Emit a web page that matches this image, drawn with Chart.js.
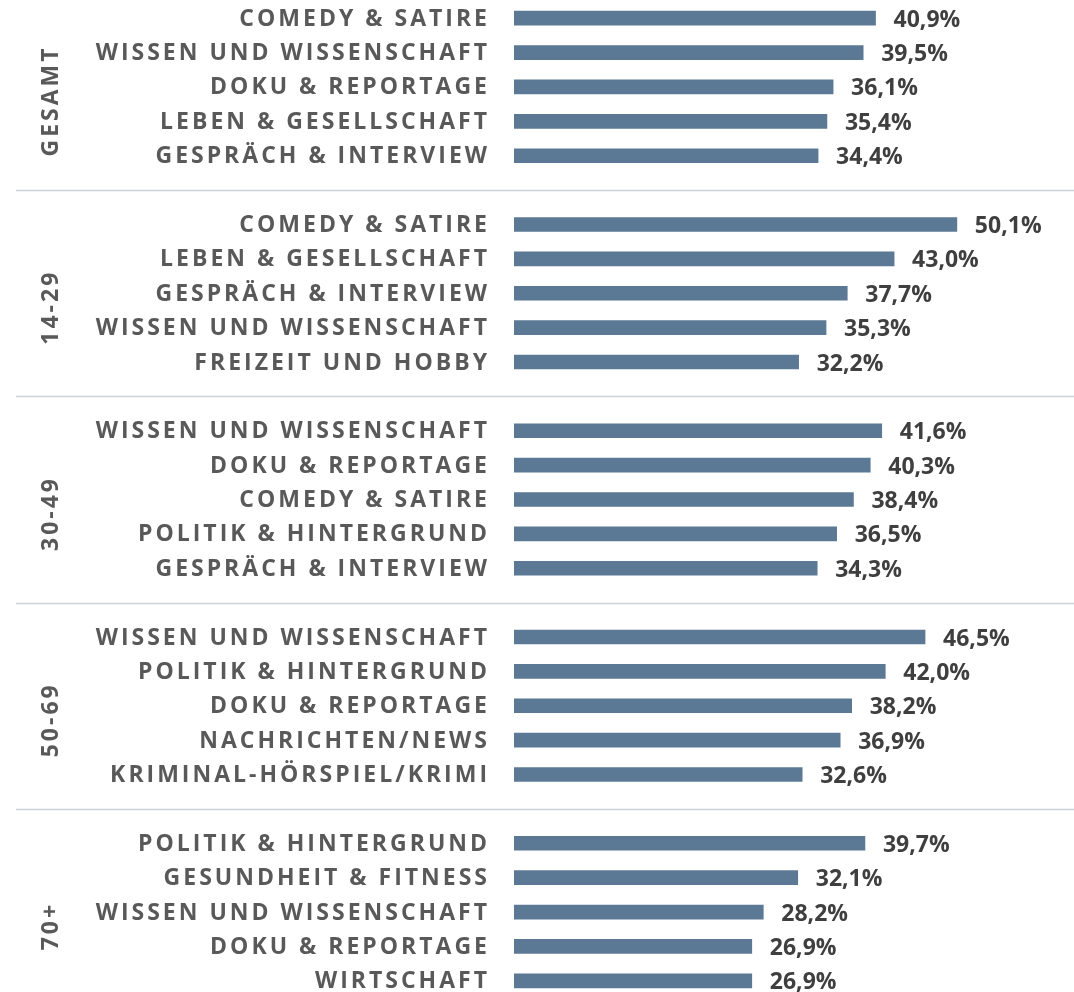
<!DOCTYPE html>
<html lang="de">
<head>
<meta charset="utf-8">
<title>Genres nach Altersgruppen</title>
<script src="https://cdn.jsdelivr.net/npm/chart.js@4.4.1/dist/chart.umd.min.js"></script>
<style>
  html, body { margin: 0; padding: 0; background: #fff; overflow: hidden; }
  #wrap { width: 1074px; height: 998px; }
</style>
</head>
<body>
<div id="wrap"><canvas id="genreChart" width="1074" height="998"></canvas></div>
<script>
// Altersgruppen (links, gedreht)
var groupNames = ['GESAMT', '14-29', '30-49', '50-69', '70+'];

// Genres je Gruppe
var catsGesamt = ['COMEDY & SATIRE', 'WISSEN UND WISSENSCHAFT', 'DOKU & REPORTAGE', 'LEBEN & GESELLSCHAFT', 'GESPRÄCH & INTERVIEW'];
var cats1429 = ['COMEDY & SATIRE', 'LEBEN & GESELLSCHAFT', 'GESPRÄCH & INTERVIEW', 'WISSEN UND WISSENSCHAFT', 'FREIZEIT UND HOBBY'];
var cats3049 = ['WISSEN UND WISSENSCHAFT', 'DOKU & REPORTAGE', 'COMEDY & SATIRE', 'POLITIK & HINTERGRUND', 'GESPRÄCH & INTERVIEW'];
var cats5069 = ['WISSEN UND WISSENSCHAFT', 'POLITIK & HINTERGRUND', 'DOKU & REPORTAGE', 'NACHRICHTEN/NEWS', 'KRIMINAL-HÖRSPIEL/KRIMI'];
var cats70 = ['POLITIK & HINTERGRUND', 'GESUNDHEIT & FITNESS', 'WISSEN UND WISSENSCHAFT', 'DOKU & REPORTAGE', 'WIRTSCHAFT'];

// Werte in %
var valsGesamt = [40.9, 39.5, 36.1, 35.4, 34.4];
var vals1429 = [50.1, 43.0, 37.7, 35.3, 32.2];
var vals3049 = [41.6, 40.3, 38.4, 36.5, 34.3];
var vals5069 = [46.5, 42.0, 38.2, 36.9, 32.6];
var vals70 = [39.7, 32.1, 28.2, 26.9, 26.9];

var groupCats = [catsGesamt, cats1429, cats3049, cats5069, cats70];
var groupVals = [valsGesamt, vals1429, vals3049, vals5069, vals70];

// flat list with an empty slot between groups
var labels = [];
var values = [];
var gapIndex = [];
var groupMid = [];
groupCats.forEach(function (cats, g) {
  if (g > 0) {
    gapIndex.push(labels.length);
    labels.push('');
    values.push(null);
  }
  groupMid.push(labels.length + 2);
  cats.forEach(function (c, i) {
    labels.push(c);
    values.push(groupVals[g][i]);
  });
});

var FONT = 'bold 23px "Open Sans", "DejaVu Sans", sans-serif';

function fmt(v) {
  return v.toFixed(1).replace('.', ',') + '%';
}

var decorPlugin = {
  id: 'decor',
  afterDatasetsDraw: function (chart) {
    var ctx = chart.ctx;
    var yScale = chart.scales.y;
    var meta = chart.getDatasetMeta(0);

    ctx.save();
    // separators
    ctx.strokeStyle = '#c9d3dc';
    ctx.lineWidth = 1.5;
    gapIndex.forEach(function (idx) {
      var y = Math.round(yScale.getPixelForValue(idx)) + 0.5;
      ctx.beginPath();
      ctx.moveTo(16, y);
      ctx.lineTo(chart.width, y);
      ctx.stroke();
    });

    // category labels
    ctx.font = FONT;
    ctx.letterSpacing = '3px';
    ctx.fillStyle = '#595959';
    ctx.textAlign = 'right';
    ctx.textBaseline = 'middle';
    labels.forEach(function (lab, i) {
      if (!lab) return;
      ctx.fillText(lab, 490, yScale.getPixelForValue(i) + 1);
    });

    // group labels (rotated)
    groupNames.forEach(function (name, g) {
      var y = yScale.getPixelForValue(groupMid[g]) + 14;
      ctx.save();
      ctx.translate(51, y);
      ctx.rotate(-Math.PI / 2);
      ctx.textAlign = 'center';
      ctx.fillText(name, 0, 0);
      ctx.restore();
    });

    // value labels
    ctx.letterSpacing = '0px';
    ctx.fillStyle = '#3f3f3f';
    ctx.textAlign = 'left';
    meta.data.forEach(function (bar, i) {
      var v = values[i];
      if (v === null) return;
      ctx.fillText(fmt(v), bar.x + 18, bar.y + 2);
    });
    ctx.restore();
  }
};

new Chart(document.getElementById('genreChart'), {
  type: 'bar',
  data: {
    labels: labels,
    datasets: [{
      data: values,
      backgroundColor: '#5b7895',
      borderWidth: 0,
      barThickness: 14
    }]
  },
  options: {
    indexAxis: 'y',
    responsive: false,
    animation: false,
    layout: { padding: { left: 514, top: 1, right: 0, bottom: 0 } },
    scales: {
      x: { display: false, min: 0, max: 63.35 },
      y: { display: false }
    },
    plugins: {
      legend: { display: false },
      tooltip: { enabled: false }
    }
  },
  plugins: [decorPlugin]
});
</script>
</body>
</html>
